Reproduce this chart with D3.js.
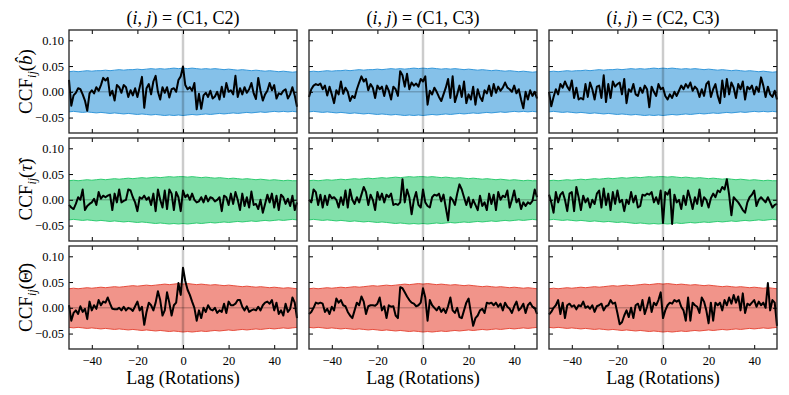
<!DOCTYPE html>
<html>
<head>
<meta charset="utf-8">
<script src="https://cdn.jsdelivr.net/npm/d3@7"></script>
<style>
body { margin: 0; background: #fff; }
text { font-family: "Liberation Serif", "Times New Roman", serif; fill: #000; }
</style>
</head>
<body>
<div id="chart"></div>
<script>
var lags = d3.range(-50, 51);
var bandLags = d3.range(-50, 51, 2);
var xTicks = [-40, -20, 0, 20, 40];
var yTicks = [-0.05, 0.00, 0.05, 0.10];
var pairLabels = ["C1, C2", "C1, C3", "C2, C3"];
var rowSymbols = ["b\u0302", "\u03c4\u0302", "\u0398\u0302"];
var rowItalic = [true, true, false];
var fillColors = ["#85c1e9", "#82e0aa", "#f1948a"];
var edgeColors = ["#3498db", "#2ecc71", "#e74c3c"];

// row 1 : b-hat
var ccfB12 = [0.023,-0.027,-0.007,-0.002,0.007,0.005,-0.005,-0.017,-0.037,-0.003,
  0.003,-0.003,0.009,0.002,0.013,0.027,0.022,0.027,-0.007,0.002,
  -0.017,0.013,0.009,-0.002,0.013,0.009,-0.010,0.003,-0.007,0.007,
  -0.010,0.009,0.029,-0.031,0.007,0.015,-0.005,0.020,0.031,0.000,
  -0.015,0.009,-0.002,0.009,-0.011,0.005,0.007,0.000,0.023,0.030,
  0.049,
  0.013,0.005,0.009,0.002,0.017,-0.034,-0.004,-0.033,-0.007,-0.002,
  -0.010,0.002,-0.013,-0.009,0.000,-0.015,0.010,-0.010,0.017,0.000,
  0.003,-0.005,0.031,-0.010,0.007,-0.005,0.009,-0.002,0.005,0.017,
  -0.003,-0.014,0.027,0.002,-0.017,-0.005,0.002,0.017,0.003,0.013,
  -0.013,-0.003,-0.005,0.002,0.005,-0.013,-0.005,0.009,-0.007,-0.029];
var ccfB13 = [-0.010,0.005,0.012,0.015,0.013,0.016,0.005,0.012,-0.007,0.010,
  -0.005,-0.022,0.003,-0.005,0.020,-0.004,0.008,0.000,-0.018,-0.008,
  -0.012,0.005,0.018,0.030,0.020,0.025,0.003,0.015,0.008,-0.012,
  0.012,0.005,0.010,-0.008,0.012,0.002,-0.015,0.010,0.005,-0.008,
  0.040,0.032,0.010,0.035,0.005,0.018,0.012,0.016,0.010,0.025,
  0.020,
  0.030,-0.025,0.002,-0.005,0.008,0.000,-0.010,-0.018,-0.005,0.008,
  0.025,-0.012,0.030,-0.020,-0.005,0.012,-0.010,0.020,-0.022,-0.005,
  -0.015,0.010,-0.025,0.005,-0.010,-0.018,0.003,-0.003,0.012,-0.008,
  0.015,-0.002,0.010,0.002,0.008,0.018,0.008,0.005,0.000,0.012,
  -0.003,0.005,-0.015,-0.032,0.000,-0.015,0.003,-0.008,0.000,-0.013];
var ccfB23 = [0.000,-0.028,-0.010,0.005,-0.005,0.015,0.008,0.020,0.010,0.003,
  0.022,-0.012,0.008,-0.015,-0.012,-0.015,0.015,-0.010,0.018,0.005,
  -0.015,0.010,0.012,-0.012,0.032,-0.020,0.015,-0.012,0.020,0.010,
  0.015,0.018,-0.005,0.025,-0.022,0.005,0.000,0.015,-0.005,-0.008,
  0.008,-0.002,0.012,0.005,-0.030,0.010,0.000,-0.008,0.015,0.005,
  0.008,
  -0.008,-0.015,-0.005,-0.012,0.000,-0.008,0.002,0.012,0.005,0.015,
  0.008,0.018,0.002,0.010,0.005,-0.010,0.005,-0.008,0.015,0.020,
  -0.010,0.005,0.015,-0.008,-0.022,0.022,-0.010,0.025,-0.005,0.018,
  0.008,-0.012,0.015,0.005,0.020,-0.015,0.010,0.005,0.012,-0.005,
  0.010,0.000,0.028,0.012,-0.010,0.010,-0.005,-0.010,0.002,-0.015];
var bandUpB = [0.039,0.040,0.039,0.040,0.041,0.040,0.041,0.041,0.042,0.041,
  0.042,0.043,0.042,0.043,0.043,0.044,0.043,0.044,0.045,0.044,
  0.045,0.044,0.045,0.046,0.045,0.046,0.045,0.046,0.045,0.044,
  0.045,0.044,0.045,0.044,0.043,0.044,0.043,0.042,0.043,0.042,
  0.041,0.042,0.041,0.040,0.041,0.040,0.039,0.040,0.039,0.038,0.039];
var bandLoB = [-0.039,-0.038,-0.039,-0.040,-0.039,-0.040,-0.041,-0.040,-0.041,-0.042,
  -0.041,-0.042,-0.043,-0.042,-0.043,-0.044,-0.043,-0.044,-0.045,-0.044,
  -0.045,-0.046,-0.045,-0.046,-0.045,-0.046,-0.045,-0.044,-0.045,-0.044,
  -0.043,-0.044,-0.043,-0.042,-0.043,-0.042,-0.041,-0.042,-0.041,-0.040,
  -0.041,-0.040,-0.039,-0.040,-0.039,-0.038,-0.039,-0.038,-0.039,-0.038,-0.039];

// row 2 : tau-hat
var ccfT12 = [-0.010,-0.015,-0.018,-0.008,0.005,0.000,0.020,-0.020,-0.012,-0.008,
  -0.005,0.002,-0.010,0.015,0.002,0.008,0.005,0.008,0.010,-0.020,
  0.012,-0.005,0.020,-0.005,-0.002,0.000,0.020,0.018,0.005,-0.005,
  -0.022,0.005,0.002,0.008,0.000,0.005,-0.010,0.012,-0.022,0.020,
  0.000,-0.015,0.018,-0.018,0.020,0.012,-0.020,0.015,0.005,-0.022,
  0.018,
  0.005,0.010,0.000,0.012,0.000,-0.005,-0.003,0.005,-0.005,0.008,
  -0.003,0.005,0.003,-0.003,0.000,0.005,-0.022,0.008,0.005,-0.010,
  0.012,-0.008,0.015,0.000,-0.020,0.012,-0.012,0.005,-0.015,0.016,
  -0.010,-0.008,-0.018,0.000,-0.025,-0.008,0.010,-0.005,0.012,-0.015,
  0.008,-0.020,0.010,0.005,-0.008,0.002,-0.012,0.008,-0.020,-0.005];
var ccfT13 = [0.000,-0.005,0.020,0.015,-0.010,0.010,-0.015,0.008,-0.010,0.010,
  0.003,0.005,0.000,-0.015,0.005,-0.010,0.018,-0.015,0.020,0.000,
  -0.008,0.005,-0.005,0.010,0.025,0.015,-0.010,0.010,0.000,-0.020,
  0.015,0.000,0.012,-0.005,0.010,0.005,0.012,-0.010,-0.008,-0.010,
  -0.005,0.040,-0.005,0.020,0.005,-0.028,0.000,0.015,-0.010,-0.015,
  0.020,
  -0.005,-0.012,-0.015,0.005,0.010,0.008,0.012,-0.003,0.010,-0.015,
  -0.040,0.005,0.000,-0.010,0.012,0.030,0.020,0.005,-0.010,0.005,
  -0.015,0.000,-0.010,-0.020,0.008,-0.012,-0.005,-0.020,0.012,-0.008,
  0.010,-0.020,0.015,0.000,0.008,0.005,0.018,-0.015,0.000,0.018,
  -0.005,0.002,-0.018,-0.005,-0.012,-0.005,-0.008,-0.002,0.020,0.005];
var ccfT23 = [0.010,-0.005,-0.025,0.015,-0.005,0.010,0.015,0.000,-0.022,0.012,
  0.015,-0.022,0.025,0.005,-0.020,0.008,-0.005,0.003,-0.015,0.000,
  -0.008,0.012,0.018,-0.015,0.022,-0.010,0.012,-0.020,0.015,-0.008,
  0.018,-0.005,0.000,-0.022,0.000,-0.008,0.015,-0.005,0.008,-0.015,
  -0.012,0.010,0.008,0.012,0.010,0.015,-0.005,0.005,-0.008,0.018,
  -0.045,
  0.015,0.010,0.020,-0.047,0.010,-0.005,0.000,-0.018,0.008,-0.010,
  0.018,0.002,-0.018,0.005,-0.008,0.020,-0.012,0.005,0.000,-0.015,
  0.003,0.012,0.005,0.018,0.015,0.025,0.020,0.040,0.010,-0.030,
  0.005,0.000,-0.005,-0.012,-0.020,-0.025,-0.005,0.005,0.010,0.018,
  -0.012,0.000,0.005,0.000,-0.005,0.005,-0.005,-0.015,-0.010,-0.008];
var bandUpT = [0.037,0.038,0.037,0.038,0.039,0.038,0.039,0.040,0.039,0.040,
  0.041,0.040,0.041,0.042,0.041,0.042,0.043,0.042,0.043,0.044,
  0.043,0.044,0.045,0.044,0.045,0.045,0.044,0.045,0.044,0.043,
  0.044,0.043,0.042,0.043,0.042,0.041,0.042,0.041,0.040,0.041,
  0.040,0.039,0.040,0.039,0.038,0.039,0.038,0.037,0.038,0.037,0.037];
var bandLoT = [-0.039,-0.038,-0.039,-0.040,-0.039,-0.040,-0.041,-0.040,-0.041,-0.042,
  -0.041,-0.042,-0.043,-0.042,-0.043,-0.044,-0.043,-0.044,-0.045,-0.046,
  -0.045,-0.046,-0.047,-0.046,-0.047,-0.046,-0.047,-0.046,-0.045,-0.046,
  -0.045,-0.044,-0.045,-0.044,-0.043,-0.044,-0.043,-0.042,-0.043,-0.042,
  -0.041,-0.042,-0.041,-0.040,-0.041,-0.040,-0.039,-0.040,-0.039,-0.038,-0.039];

// row 3 : Theta-hat
var ccfTh12 = [0.005,-0.025,-0.010,-0.005,-0.012,0.003,-0.008,-0.002,-0.022,0.012,
  -0.005,0.005,-0.002,0.015,0.005,0.012,0.010,0.020,0.008,-0.002,
  -0.003,-0.003,0.000,-0.005,0.002,-0.005,0.000,-0.002,-0.006,0.003,
  0.012,-0.005,0.002,-0.033,-0.008,0.010,0.005,-0.005,0.010,0.032,
  0.015,-0.015,-0.005,0.030,0.010,-0.015,0.005,0.010,0.048,0.025,
  0.078,
  0.052,0.035,0.025,0.012,0.000,-0.025,-0.005,-0.020,0.000,-0.008,
  0.005,-0.003,-0.005,0.000,-0.010,-0.005,-0.008,0.008,-0.010,0.012,
  0.005,0.005,0.008,0.015,0.015,0.002,-0.005,0.003,-0.008,-0.005,
  -0.003,-0.005,0.002,-0.005,0.005,0.010,0.012,0.008,0.015,-0.005,
  0.010,-0.012,-0.005,-0.015,0.008,-0.008,-0.002,0.020,0.010,-0.020];
var ccfTh13 = [-0.012,-0.008,0.000,0.010,0.008,0.010,0.008,-0.008,-0.002,-0.012,
  0.002,-0.005,0.018,0.010,0.015,0.005,0.003,-0.008,-0.015,-0.020,
  -0.005,0.010,0.005,0.022,0.012,-0.012,0.003,0.005,0.005,0.004,
  0.008,0.020,-0.005,0.003,-0.020,0.005,0.002,0.003,-0.015,-0.020,
  0.040,0.038,0.030,0.022,0.015,0.010,0.008,0.003,0.005,0.010,
  0.038,
  0.020,-0.025,0.015,0.005,0.000,-0.005,0.002,-0.008,-0.002,-0.010,
  0.003,0.020,-0.005,-0.010,0.000,-0.018,-0.020,-0.005,0.010,0.018,
  -0.010,-0.035,-0.020,-0.015,-0.005,-0.002,-0.010,0.010,0.008,0.010,
  0.005,0.010,0.002,0.008,-0.005,0.010,0.002,-0.002,-0.010,0.003,
  0.012,-0.005,0.000,0.008,-0.010,0.005,0.010,0.002,0.000,-0.012];
var ccfTh23 = [-0.013,-0.008,0.000,0.005,0.015,-0.012,0.010,-0.020,0.005,0.008,
  0.002,0.005,-0.003,0.005,0.003,0.012,0.000,0.003,-0.002,0.005,
  -0.008,0.003,0.005,0.008,-0.005,0.003,0.005,0.015,0.008,0.010,
  -0.010,-0.032,-0.028,-0.015,-0.005,-0.018,0.000,-0.020,0.005,0.008,
  -0.005,0.015,-0.012,0.002,0.020,-0.008,0.010,0.005,0.015,0.030,
  -0.020,
  -0.005,0.005,0.010,0.008,0.015,0.012,0.015,0.002,-0.005,-0.025,
  0.020,-0.025,0.010,0.005,0.002,-0.010,0.020,0.012,-0.005,-0.030,
  0.010,-0.025,0.010,0.005,0.010,-0.005,0.015,0.005,0.020,0.008,
  0.025,0.010,0.022,-0.005,0.028,-0.010,0.008,0.005,0.010,0.015,
  0.002,0.012,0.005,0.010,0.000,0.048,-0.005,0.015,0.010,-0.035];
var bandUpTh = [0.037,0.038,0.037,0.038,0.039,0.038,0.039,0.040,0.039,0.040,
  0.041,0.040,0.041,0.042,0.043,0.042,0.043,0.044,0.043,0.044,
  0.045,0.046,0.045,0.046,0.047,0.046,0.047,0.046,0.045,0.046,
  0.045,0.044,0.045,0.044,0.043,0.044,0.043,0.042,0.041,0.042,
  0.041,0.040,0.041,0.040,0.039,0.040,0.039,0.038,0.039,0.038,0.037];
var bandLoTh = [-0.038,-0.039,-0.038,-0.039,-0.040,-0.039,-0.040,-0.041,-0.040,-0.041,
  -0.042,-0.041,-0.042,-0.043,-0.042,-0.043,-0.044,-0.043,-0.044,-0.045,
  -0.044,-0.045,-0.046,-0.045,-0.046,-0.047,-0.046,-0.047,-0.046,-0.045,
  -0.046,-0.045,-0.044,-0.045,-0.044,-0.043,-0.044,-0.043,-0.042,-0.043,
  -0.042,-0.041,-0.042,-0.041,-0.040,-0.041,-0.040,-0.039,-0.040,-0.039,-0.038];

var ccfRows = [[ccfB12, ccfB13, ccfB23], [ccfT12, ccfT13, ccfT23], [ccfTh12, ccfTh13, ccfTh23]];
var bandUpRows = [bandUpB, bandUpT, bandUpTh];
var bandLoRows = [bandLoB, bandLoT, bandLoTh];

var width = 789, height = 395;
var panelW = 228, panelH = 103;
var colX = [69, 309, 549];
var rowY = [30, 138, 246];

var xScale = d3.scaleLinear().domain([-50, 50]).range([0, panelW]);
var yScale = d3.scaleLinear().domain([-0.08, 0.12]).range([panelH, 0]);

var svg = d3.select("#chart").append("svg")
    .attr("width", width)
    .attr("height", height);

var area = d3.area()
    .x(function(d) { return xScale(d[0]); })
    .y0(function(d) { return yScale(d[1]); })
    .y1(function(d) { return yScale(d[2]); });

var line = d3.line()
    .x(function(d) { return xScale(d[0]); })
    .y(function(d) { return yScale(d[1]); });

function styleAxis(g) {
    g.select(".domain").remove();
    g.selectAll(".tick line").attr("stroke", "#000").attr("stroke-width", 1);
    g.selectAll(".tick text")
        .style("font-family", "'Liberation Serif', serif")
        .style("font-size", "12.5px")
        .attr("fill", "#000");
}

function drawPanel(row, col) {
    var g = svg.append("g")
        .attr("transform", "translate(" + colX[col] + "," + rowY[row] + ")");

    var bandData = bandLags.map(function(l, k) { return [l, bandLoRows[row][k], bandUpRows[row][k]]; });
    g.append("path")
        .datum(bandData)
        .attr("d", area)
        .attr("fill", fillColors[row]);
    g.append("path")
        .datum(bandData.map(function(d) { return [d[0], d[2]]; }))
        .attr("d", line)
        .attr("fill", "none")
        .attr("stroke", edgeColors[row])
        .attr("stroke-width", 1);
    g.append("path")
        .datum(bandData.map(function(d) { return [d[0], d[1]]; }))
        .attr("d", line)
        .attr("fill", "none")
        .attr("stroke", edgeColors[row])
        .attr("stroke-width", 1);

    // zero reference lines
    g.append("line")
        .attr("x1", xScale(0)).attr("x2", xScale(0))
        .attr("y1", 0).attr("y2", panelH)
        .attr("stroke", "#000").attr("stroke-opacity", 0.2).attr("stroke-width", 2.5);
    g.append("line")
        .attr("x1", 0).attr("x2", panelW)
        .attr("y1", yScale(0)).attr("y2", yScale(0))
        .attr("stroke", "#000").attr("stroke-opacity", 0.2).attr("stroke-width", 1.5);

    g.append("path")
        .datum(lags.map(function(l, k) { return [l, ccfRows[row][col][k]]; }))
        .attr("d", line)
        .attr("fill", "none")
        .attr("stroke", "#000")
        .attr("stroke-width", 2)
        .attr("stroke-linejoin", "round");

    var xAxis = d3.axisBottom(xScale).tickValues(xTicks).tickSize(-4).tickSizeOuter(0).tickPadding(7)
        .tickFormat(row == 2 ? d3.format("d") : "");
    var yAxis = d3.axisLeft(yScale).tickValues(yTicks).tickSize(-4).tickSizeOuter(0).tickPadding(5)
        .tickFormat(col == 0 ? d3.format(".2f") : "");
    g.append("g").attr("transform", "translate(0," + panelH + ")").call(xAxis).call(styleAxis);
    g.append("g").call(d3.axisTop(xScale).tickValues(xTicks).tickSize(-4).tickFormat("")).call(styleAxis);
    g.append("g").call(yAxis).call(styleAxis);
    g.append("g").attr("transform", "translate(" + panelW + ",0)")
        .call(d3.axisRight(yScale).tickValues(yTicks).tickSize(-4).tickFormat("")).call(styleAxis);

    g.append("rect")
        .attr("width", panelW).attr("height", panelH)
        .attr("fill", "none").attr("stroke", "#222").attr("stroke-width", 1.3);

    if (row == 0) {
        var t = g.append("text")
            .attr("x", panelW / 2).attr("y", -6)
            .attr("text-anchor", "middle")
            .attr("font-size", 18);
        t.append("tspan").text("(");
        t.append("tspan").attr("font-style", "italic").text("i");
        t.append("tspan").text(", ");
        t.append("tspan").attr("font-style", "italic").text("j");
        t.append("tspan").text(") = (" + pairLabels[col] + ")");
    }
    if (row == 2) {
        g.append("text")
            .attr("x", panelW / 2).attr("y", panelH + 35)
            .attr("text-anchor", "middle")
            .attr("font-size", 18)
            .text("Lag (Rotations)");
    }
    if (col == 0) {
        var yl = g.append("text")
            .attr("transform", "translate(-37," + (panelH / 2) + ") rotate(-90)")
            .attr("text-anchor", "middle")
            .attr("font-size", 19);
        yl.append("tspan").text("CCF");
        yl.append("tspan").attr("font-style", "italic").attr("font-size", 12).attr("dy", 4).text("ij");
        yl.append("tspan").attr("dy", -4).text("(");
        yl.append("tspan").attr("font-style", rowItalic[row] ? "italic" : "normal").text(rowSymbols[row]);
        yl.append("tspan").text(")");
    }
}

for (var r = 0; r < 3; r++) {
    for (var c = 0; c < 3; c++) {
        drawPanel(r, c);
    }
}
</script>
</body>
</html>
